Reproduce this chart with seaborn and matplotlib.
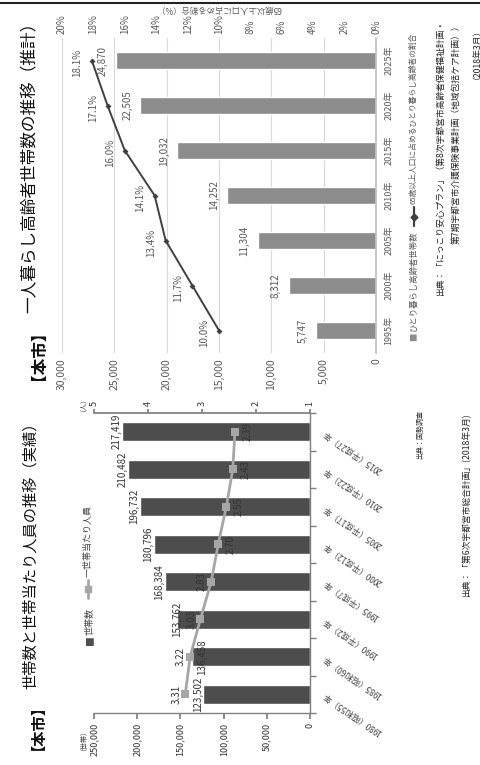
import matplotlib
matplotlib.use('Agg')
import matplotlib.pyplot as plt
import seaborn as sns
import numpy as np
from matplotlib.lines import Line2D

# ---------------- data ----------------
hh_years = ['1980（昭和55）年', '1985（昭和60）年', '1990（平成2）年', '1995（平成7）年',
            '2000（平成12）年', '2005（平成17）年', '2010（平成22）年', '2015（平成27）年']
hh_counts = [123502, 136458, 153762, 168384, 180796, 196732, 210482, 217419]
hh_persons = [3.31, 3.22, 3.03, 2.83, 2.70, 2.55, 2.43, 2.39]
hh_count_ticks = [0, 50000, 100000, 150000, 200000, 250000]
hh_person_ticks = [1, 2, 3, 4, 5]

el_years = ['1995年', '2000年', '2005年', '2010年', '2015年', '2020年', '2025年']
el_counts = [5747, 8312, 11304, 14252, 19032, 22505, 24870]
el_share = [10.0, 11.7, 13.4, 14.1, 16.0, 17.1, 18.1]
el_count_ticks = [0, 5000, 10000, 15000, 20000, 25000, 30000]
el_share_ticks = [0, 2, 4, 6, 8, 10, 12, 14, 16, 18, 20]

title_top_bold = '【本市】'
title_top = '一人暮らし高齢者世帯数の推移（推計）'
title_bot_bold = '【本市】'
title_bot = '世帯数と世帯当たり人員の推移（実績）'
leg_top_bar = 'ひとり暮らし高齢者世帯数'
leg_top_line = '65歳以上人口に占めるひとり暮らし高齢者の割合'
leg_bot_bar = '世帯数'
leg_bot_line = '一世帯当たり人員'
axis_top_share = '65歳以上人口に占める割合（%）'
src_top = ['出典：「にっこり安心プラン」（第8次宇都宮市高齢者保健福祉計画・',
           '第7期宇都宮市介護保険事業計画（地域包括ケア計画））',
           '（2018年3月）']
src_bot1 = '出典：国勢調査'
src_bot2 = '出典：「第6次宇都宮市総合計画」(2018年3月)'

# ---------------- style ----------------
sns.set_theme(style='white')
FAM = ['Liberation Sans Narrow', 'Noto Sans CJK JP', 'DejaVu Sans']
JP = ['Noto Sans CJK JP', 'DejaVu Sans']
plt.rcParams['font.family'] = FAM

W, H = 480, 765
fig = plt.figure(figsize=(W / 100, H / 100), dpi=100)
fig.patch.set_facecolor('white')


def fx(x):
    return x / W


def fy(y):
    return 1 - y / H


# ================= top chart (rotated) =================
axA = fig.add_axes([fx(62), fy(353), (376 - 62) / W, (353 - 38) / H])
orderA = el_years[::-1]
sns.barplot(x=el_counts, y=el_years, order=orderA, color='#8c8c8c', width=0.38,
            saturation=1, ax=axA, orient='h')
nA = len(orderA)
axA.set_xlim(30000, 0)
axA.set_xticks(el_count_ticks)
axA.set_xticklabels([f'{t:,}' for t in el_count_ticks], rotation=90, fontsize=7.5, color='#595959')
axA.tick_params(axis='x', length=0, pad=4)
axA.grid(axis='x', color='#d9d9d9', lw=0.8)
axA.set_axisbelow(True)
for s in ['top', 'left', 'bottom']:
    axA.spines[s].set_visible(False)
axA.spines['right'].set_color('#bfbfbf')
axA.yaxis.tick_right()
axA.set_yticks(range(nA))
axA.set_yticklabels(orderA, rotation=90, fontsize=6.5, va='center', ha='left', color='#595959')
axA.tick_params(axis='y', length=0, pad=6)
axA.set_xlabel('')
axA.set_ylabel('')

posA = [orderA.index(c) for c in el_years]
for v, p in zip(el_counts, posA):
    axA.annotate(f'{v:,}', (v, p), xytext=(-9.5, 0), textcoords='offset points',
                 rotation=90, ha='center', va='center', fontsize=7, color='#595959')

axA2 = axA.twiny()
sns.lineplot(x=el_share, y=posA, sort=False, color='#404040', lw=1.4, marker='D',
             markersize=3, markeredgewidth=0, ax=axA2)
axA2.set_xlim(20, 0)
axA2.set_ylim(nA - 0.5, -0.5)
axA2.set_xticks(el_share_ticks)
axA2.set_xticklabels([f'{t}%' for t in el_share_ticks], rotation=90, fontsize=7, color='#595959')
axA2.tick_params(axis='x', length=0, pad=3)
for s in axA2.spines.values():
    s.set_visible(False)
axA2.set_xlabel(axis_top_share, rotation=180, fontsize=6, color='#595959', labelpad=2, family=JP)
axA2.set_ylabel('')
for s, p in zip(el_share, posA):
    axA2.annotate(f'{s:.1f}%', (s, p), xytext=(-10.5, -2), textcoords='offset points',
                  rotation=90, ha='center', va='center', fontsize=7, color='#595959')

# ================= bottom chart (rotated) =================
axB = fig.add_axes([fx(94), fy(713), (310 - 94) / W, (713 - 413) / H])
orderB = hh_years[::-1]
sns.barplot(x=hh_counts, y=hh_years, order=orderB, color='#4d4d4d', width=0.5,
            saturation=1, ax=axB, orient='h')
nB = len(orderB)
axB.set_xlim(250000, 0)
axB.set_xticks(hh_count_ticks)
axB.set_xticklabels([f'{t:,}' for t in hh_count_ticks], rotation=90, fontsize=6.5, color='#333333')
axB.tick_params(axis='x', length=4, direction='out', pad=3, color='#808080')
for s in ['top', 'left']:
    axB.spines[s].set_visible(False)
for s in ['bottom', 'right']:
    axB.spines[s].set_color('#808080')
    axB.spines[s].set_linewidth(1)
axB.yaxis.tick_right()
axB.set_yticks(range(nB))
axB.set_yticklabels(orderB, rotation=146, ha='right', va='center', rotation_mode='anchor',
                    fontsize=6, color='#444444', family=JP)
axB.set_yticks(np.arange(-0.5, nB, 1), minor=True)
axB.tick_params(axis='y', which='major', length=0, pad=10)
axB.tick_params(axis='y', which='minor', length=4, direction='out', color='#808080')
axB.set_xlabel('')
axB.set_ylabel('')

posB = [orderB.index(c) for c in hh_years]
count_offsets = [-4, 7.5, 0, -4, -4, -4, -4, -4]
for v, p, o in zip(hh_counts, posB, count_offsets):
    axB.annotate(f'{v:,}', (v, p), xytext=(o, 0), textcoords='offset points',
                 rotation=90, ha='center', va='center', fontsize=7, color='#333333')

axB2 = axB.twiny()
sns.lineplot(x=hh_persons, y=posB, sort=False, color='#a6a6a6', lw=2, marker='s',
             markersize=6, markeredgewidth=0, ax=axB2)
axB2.set_xlim(5, 1)
axB2.set_ylim(nB - 0.5, -0.5)
axB2.set_xticks(hh_person_ticks)
axB2.set_xticklabels([str(t) for t in hh_person_ticks], rotation=90, fontsize=6.5, color='#333333')
axB2.tick_params(axis='x', length=3, direction='out', pad=2, color='#808080')
for k, s in axB2.spines.items():
    s.set_visible(k == 'top')
axB2.spines['top'].set_color('#808080')
axB2.set_xlabel('')
axB2.set_ylabel('')
for i, (v, p) in enumerate(zip(hh_persons, posB)):
    off = -6.5 if i < 4 else 9
    axB2.annotate(f'{v:.2f}', (v, p), xytext=(off, 0), textcoords='offset points',
                  rotation=90, ha='center', va='center', fontsize=7, color='#333333')

# ================= texts / legends =================
# titles
fig.text(fx(30), fy(380), title_top_bold, rotation=90, ha='center', va='bottom',
         fontsize=12, fontweight='bold', family=JP, color='#111111')
fig.text(fx(30), fy(313), title_top, rotation=90, ha='center', va='bottom',
         fontsize=12, family=JP, color='#111111')
fig.text(fx(30), fy(750), title_bot_bold, rotation=90, ha='center', va='bottom',
         fontsize=11, fontweight='bold', family=JP, color='#111111')
fig.text(fx(30), fy(689), title_bot, rotation=90, ha='center', va='bottom',
         fontsize=11, family=JP, color='#111111')

# top legend
fig.text(fx(414), fy(341), '■', rotation=90, ha='center', va='bottom', fontsize=6,
         family=JP, color='#8c8c8c')
fig.text(fx(414), fy(332), leg_top_bar, rotation=90, ha='center', va='bottom', fontsize=6,
         family=JP, color='#595959')
fig.add_artist(Line2D([fx(414), fx(414)], [fy(226), fy(207)], transform=fig.transFigure,
                      color='#404040', lw=1.6))
fig.add_artist(Line2D([fx(414)], [fy(216.5)], transform=fig.transFigure, color='#404040',
                      marker='D', markersize=3.5, lw=0))
fig.text(fx(414), fy(204), leg_top_line, rotation=90, ha='center', va='bottom', fontsize=5.6,
         family=JP, color='#595959')

# bottom legend
fig.text(fx(90), fy(646), '■', rotation=90, ha='center', va='bottom', fontsize=7,
         family=JP, color='#4d4d4d')
fig.text(fx(90), fy(635), leg_bot_bar, rotation=90, ha='center', va='bottom', fontsize=6.5,
         family=JP, color='#444444')
fig.add_artist(Line2D([fx(88), fx(88)], [fy(598), fy(580)], transform=fig.transFigure,
                      color='#a6a6a6', lw=2))
fig.add_artist(Line2D([fx(88)], [fy(589)], transform=fig.transFigure, color='#a6a6a6',
                      marker='s', markersize=5, lw=0))
fig.text(fx(88), fy(577), leg_bot_line, rotation=90, ha='center', va='bottom', fontsize=6.5,
         family=JP, color='#444444')

# unit labels
fig.text(fx(80), fy(737), '（世帯）', rotation=90, ha='center', va='center', fontsize=5,
         family=JP, color='#444444')
fig.text(fx(79), fy(401), '（人）', rotation=90, ha='center', va='center', fontsize=5,
         family=JP, color='#444444')

# sources
for x, line in zip([440, 456, 472], src_top):
    fig.text(fx(x), fy(20), line, rotation=90, ha='center', va='top', fontsize=6.3,
             family=JP, color='#222222')
fig.text(fx(420), fy(410), src_bot1, rotation=90, ha='center', va='top', fontsize=5,
         family=JP, color='#333333')
fig.text(fx(466), fy(413), src_bot2, rotation=90, ha='center', va='top', fontsize=6.3,
         family=JP, color='#222222')

# top border line
fig.add_artist(Line2D([0, 1], [fy(3), fy(3)], transform=fig.transFigure, color='#222222', lw=1.5))

fig.savefig('out.png', dpi=100, facecolor='white')
